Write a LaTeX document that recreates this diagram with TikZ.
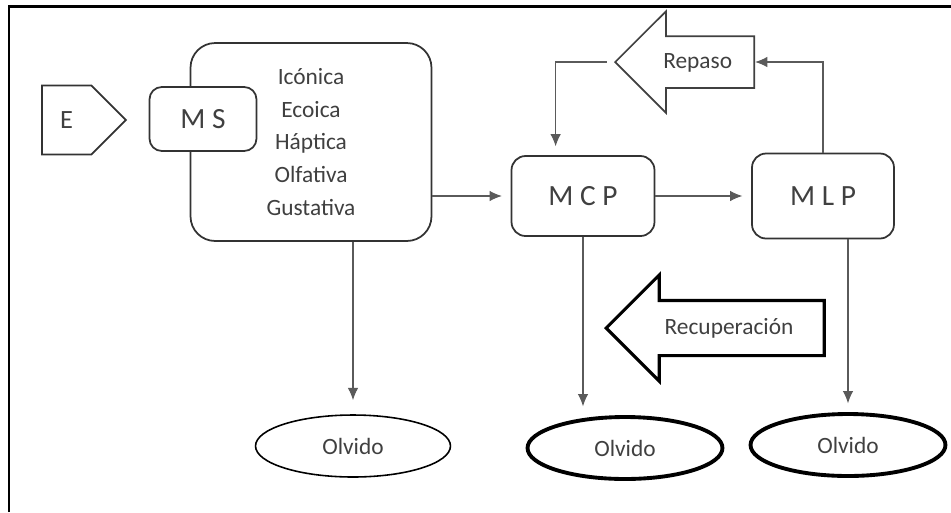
\documentclass[tikz,border=0pt]{standalone}
\usepackage{fontspec}
\setmainfont{Carlito}
\usepackage{tikz}
\usetikzlibrary{positioning,shapes.geometric,shapes.symbols,shapes.arrows,arrows.meta,calc}

\definecolor{lineg}{HTML}{5A5A5A}
\definecolor{textg}{HTML}{404040}

\tikzset{
  small/.style={font=\fontsize{13.3}{18.7}\selectfont, text=textg},
  big/.style={font=\fontsize{16.7}{20}\selectfont, text=textg},
  memo/.style={draw=black!80, line width=1pt, rounded corners=8pt, fill=white, big},
  olvido/.style={ellipse, draw, line width=0.9pt, inner sep=0pt,
                 minimum width=3.9cm, minimum height=1.24cm, small},
  gruesa/.style={line width=2.2pt},
  bloque/.style={single arrow, shape border rotate=180, draw, fill=white,
                 single arrow tip angle=90, text height=0.35cm, text depth=0.1cm, small},
  flecha/.style={draw=lineg, line width=0.6pt, -{Latex[length=7pt,width=6pt]}, shorten >=5pt},
}

\begin{document}
\begin{tikzpicture}[x=0.02cm, y=-0.02cm]
    \useasboundingbox (0,0) rectangle (951,512);
    \draw[line width=1.7pt] (9,512) -- (9,6) -- (951,6);

    % memoria sensorial
    \node[signal, signal to=east, signal pointer angle=90, draw=black!80, line width=1pt,
          minimum width=1.68cm, minimum height=1.38cm, anchor=west,
          font=\fontsize{15}{18}\selectfont, text=textg] (E) at (41,120) {E};
    \node[memo, rounded corners=14pt, minimum width=4.82cm, minimum height=3.96cm,
          align=center, small] (sens) at (311,142)
          {Icónica\\Ecoica\\Háptica\\Olfativa\\Gustativa};
    \node[memo, rounded corners=7pt, minimum width=2.14cm, minimum height=1.28cm] (MS) at (203,119) {M S};

    % corto y largo plazo
    \node[memo, minimum width=2.86cm, minimum height=1.6cm] (MCP) at (583,196) {M C P};
    \node[memo, minimum width=2.84cm, minimum height=1.7cm] (MLP) at (823,196) {M L P};

    \node[bloque, draw=black!75, line width=1pt, inner ysep=0.275cm,
          single arrow head extend=0.5cm, minimum height=2.78cm, anchor=tip] (Repaso) at (614,62) {Repaso};
    \node[bloque, line width=1.8pt, inner ysep=0.295cm,
          single arrow head extend=0.51cm, minimum height=4.36cm, anchor=tip] (Recup) at (604,328) {Recuperación};

    \node[olvido] (olv1) at (353,446) {Olvido};
    \node[olvido, gruesa] (olv2) at (625,448) {Olvido};
    \node[olvido, gruesa] (olv3) at (848,445) {Olvido};

    \draw[flecha] (sens.east |- MCP.west) -- (MCP.west);
    \draw[flecha] (MCP) -- (MLP);
    \draw[flecha, shorten >=0pt] (MLP.north) |- (Repaso.tail);
    \draw[flecha, shorten <=4pt] (Repaso.tip) -| ([xshift=0.9cm]MCP.north west);

    \draw[flecha, shorten >=8pt] (olv1.north |- sens.south) -- (olv1.north);
    \draw[flecha] (MCP.south) -- (MCP.south |- olv2.north);
    \draw[flecha] (olv3.north |- MLP.south) -- (olv3.north);
\end{tikzpicture}
\end{document}
